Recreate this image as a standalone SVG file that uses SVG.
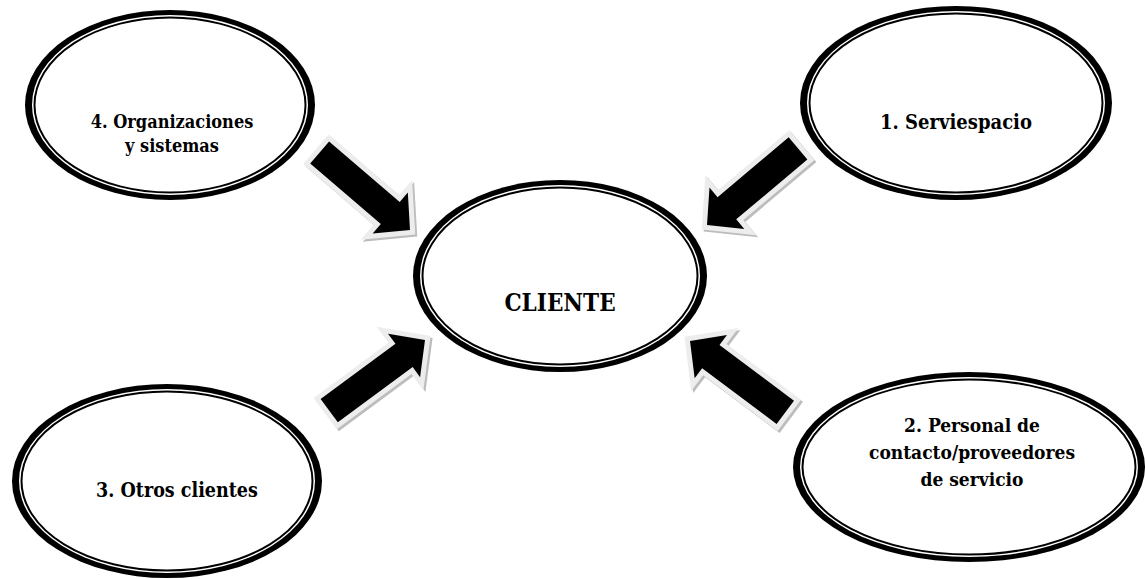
<svg xmlns="http://www.w3.org/2000/svg" xmlns:xlink="http://www.w3.org/1999/xlink" width="1145" height="579" viewBox="0 0 1145 579">
<style>
  .o{fill:#000}
  .g{fill:#fff}
  .i{fill:#fff;stroke:#000;stroke-width:2}
  text{font-family:"DejaVu Serif Condensed","DejaVu Serif",serif;font-stretch:condensed;font-weight:bold;fill:#000;text-anchor:middle}
  .sh{fill:#bdbdbd;stroke:#bdbdbd;stroke-width:10;stroke-linejoin:miter}
  .ol{fill:#ededed;stroke:#ededed;stroke-width:10;stroke-linejoin:miter}
  .bk{fill:#000}
</style>
<defs>
  <polygon id="ap" points="-119,-14.5 -26,-14.5 -26,-27 0,0 -26,27 -26,14.5 -119,14.5"/>
</defs>
<rect width="1145" height="579" fill="#fff"/>
<g id="connectors">
  <g id="arrow-4-cliente">
    <use xlink:href="#ap" class="sh" transform="translate(412,232) rotate(40.6)"/>
    <use xlink:href="#ap" class="ol" transform="translate(410,230) rotate(40.6)"/>
    <use xlink:href="#ap" class="bk" transform="translate(410,230) rotate(40.6)"/>
  </g>
  <g id="arrow-1-cliente">
    <use xlink:href="#ap" class="sh" transform="translate(709,227) rotate(139.9)"/>
    <use xlink:href="#ap" class="ol" transform="translate(707,225) rotate(139.9)"/>
    <use xlink:href="#ap" class="bk" transform="translate(707,225) rotate(139.9)"/>
  </g>
  <g id="arrow-3-cliente">
    <use xlink:href="#ap" class="sh" transform="translate(427,342) rotate(-36.4)"/>
    <use xlink:href="#ap" class="ol" transform="translate(425,340) rotate(-36.4)"/>
    <use xlink:href="#ap" class="bk" transform="translate(425,340) rotate(-36.4)"/>
  </g>
  <g id="arrow-2-cliente">
    <use xlink:href="#ap" class="sh" transform="translate(692,343) rotate(216.8)"/>
    <use xlink:href="#ap" class="ol" transform="translate(690,341) rotate(216.8)"/>
    <use xlink:href="#ap" class="bk" transform="translate(690,341) rotate(216.8)"/>
  </g>
</g>
<g id="node-cliente">
  <ellipse class="o" cx="560" cy="276" rx="147" ry="96"/>
  <ellipse class="g" cx="560" cy="276" rx="140" ry="91"/>
  <ellipse class="i" cx="560" cy="276" rx="137.5" ry="88.5"/>
  <text x="560" y="311" font-size="24">CLIENTE</text>
</g>
<g id="node-4">
  <ellipse class="o" cx="170" cy="105" rx="145" ry="95"/>
  <ellipse class="g" cx="170" cy="105" rx="138" ry="90"/>
  <ellipse class="i" cx="170" cy="105" rx="135.5" ry="87.5"/>
  <text x="172" y="128" font-size="18">4. Organizaciones</text>
  <text x="172" y="152" font-size="18">y sistemas</text>
</g>
<g id="node-1">
  <ellipse class="o" cx="956" cy="103" rx="156" ry="97"/>
  <ellipse class="g" cx="956" cy="103" rx="149" ry="92"/>
  <ellipse class="i" cx="956" cy="103" rx="146.5" ry="89.5"/>
  <text x="956" y="129" font-size="20">1. Serviespacio</text>
</g>
<g id="node-3">
  <ellipse class="o" cx="167" cy="481" rx="155" ry="97"/>
  <ellipse class="g" cx="167" cy="481" rx="148" ry="92"/>
  <ellipse class="i" cx="167" cy="481" rx="145.5" ry="89.5"/>
  <text x="177" y="497" font-size="19.5">3. Otros clientes</text>
</g>
<g id="node-2">
  <ellipse class="o" cx="969" cy="467" rx="176" ry="95"/>
  <ellipse class="g" cx="969" cy="467" rx="169" ry="90"/>
  <ellipse class="i" cx="969" cy="467" rx="166.5" ry="87.5"/>
  <text x="972" y="432" font-size="19">2. Personal de</text>
  <text x="972" y="459" font-size="19">contacto/proveedores</text>
  <text x="972" y="486" font-size="19">de servicio</text>
</g>
</svg>
